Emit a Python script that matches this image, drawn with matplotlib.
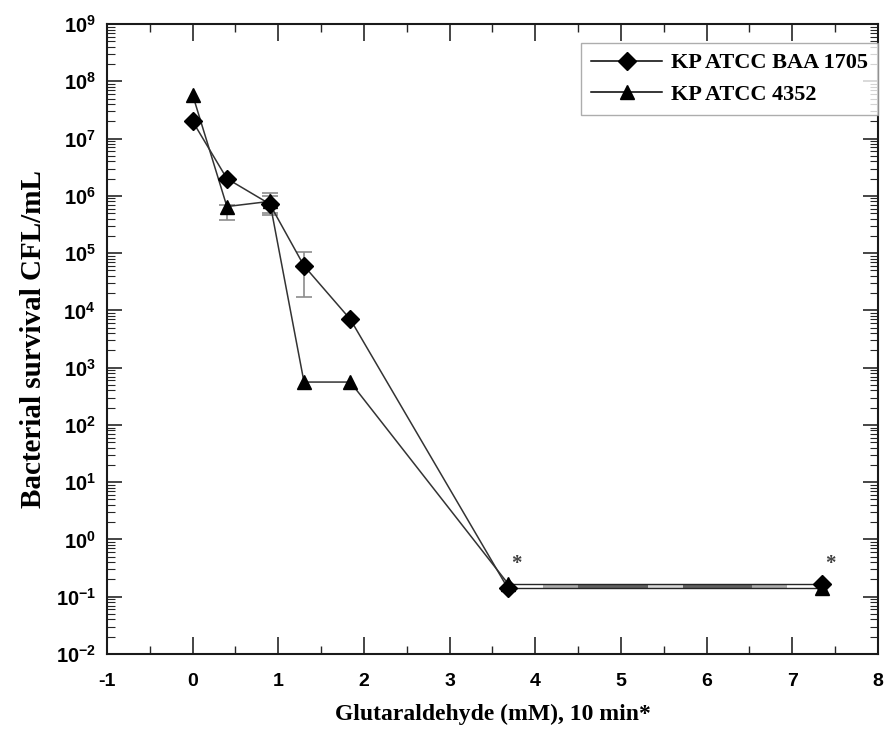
import numpy as np
import matplotlib.pyplot as plt
from matplotlib.ticker import LogLocator, FixedLocator, NullFormatter

plt.rcParams['mathtext.fontset'] = 'custom'
plt.rcParams['mathtext.bf'] = 'Liberation Sans:bold'
plt.rcParams['mathtext.rm'] = 'Liberation Sans'
plt.rcParams['axes.unicode_minus'] = False

# ── Data ──────────────────────────────────────────────────────────────────────
conc_mM   = [0.0, 0.4, 0.9, 1.3, 1.84, 3.68, 7.35]
baa1705   = [2.0e7, 2.0e6, 7.2e5, 6.0e4, 7.0e3, 0.14, 0.17]
atcc4352  = [5.8e7, 6.5e5, 8.0e5, 560, 560, 0.17, 0.14]

# error bars: (index, lower, upper)
baa_err   = [(2, 5.0e5, 1.0e6), (3, 1.7e4, 1.05e5)]
atcc_err  = [(1, 3.8e5, 7.0e5), (2, 4.6e5, 1.1e6)]

star_x    = [3.78, 7.45]
star_y    = [0.38, 0.38]

# grey band between the two curves at the detection limit
band_grey = ['white', '0.68', '0.38', '0.38', '0.85', '0.38', '0.38', '0.68', 'white']

xticks    = list(range(-1, 9))
yexp      = list(range(-2, 10))

# ── Figure ────────────────────────────────────────────────────────────────────
fig = plt.figure(figsize=(8.87, 7.51), dpi=100)
ax = fig.add_axes([0.1206, 0.1292, 0.8692, 0.8388])

ax.set_yscale('log')
ax.set_xlim(-1, 8)
ax.set_ylim(1e-2, 1e9)

# band segments
x0, x1 = conc_mM[-2], conc_mM[-1]
edges = np.linspace(x0, x1, len(band_grey) + 1)
lo = min(baa1705[-2], atcc4352[-2])
hi = max(baa1705[-2], atcc4352[-2])
for c, a, b in zip(band_grey, edges[:-1], edges[1:]):
    ax.fill_between([a, b], [lo, lo], [hi, hi], color=c, lw=0, zorder=1)
ax.plot([x0, x1], [hi, hi], color='0.15', lw=1.0, zorder=2)
ax.plot([x0, x1], [lo, lo], color='0.15', lw=1.0, zorder=2)

# error bars
for idx, lo_e, hi_e in baa_err + atcc_err:
    mid = np.sqrt(lo_e * hi_e)
    ax.errorbar([conc_mM[idx]], [mid], yerr=[[mid - lo_e], [hi_e - mid]],
                fmt='none', ecolor='0.55', elinewidth=1.2, capsize=6, capthick=1.2, zorder=2)

ax.plot(conc_mM[:-1], baa1705[:-1], color='0.2', lw=1.1, zorder=3)
ax.plot(conc_mM[:-1], atcc4352[:-1], color='0.2', lw=1.1, zorder=3)
ax.plot(conc_mM, baa1705, ls='none', marker='D', ms=9, color='black', zorder=4)
ax.plot(conc_mM, atcc4352, ls='none', marker='^', ms=10, color='black', zorder=4)

for sx, sy in zip(star_x, star_y):
    ax.text(sx, sy, '*', ha='center', va='center', fontsize=15, fontweight='bold',
            family='Liberation Serif', color='0.25')

# legend drawn with proxy handles
h1, = ax.plot([], [], color='black', lw=1.1, marker='D', ms=9)
h2, = ax.plot([], [], color='black', lw=1.1, marker='^', ms=10)
leg = ax.legend([h1, h2], ['KP ATCC BAA 1705', 'KP ATCC 4352'],
                loc='upper right', bbox_to_anchor=(1.0, 0.97),
                prop={'family': 'Liberation Serif', 'weight': 'bold', 'size': 16},
                frameon=True, fancybox=False, edgecolor='0.6', handlelength=3.2,
                handletextpad=0.4, borderpad=0.45, labelspacing=0.5, borderaxespad=0)
leg.get_frame().set_linewidth(1.0)

# ── Axes styling ──────────────────────────────────────────────────────────────
ax.xaxis.set_major_locator(FixedLocator(xticks))
ax.xaxis.set_minor_locator(FixedLocator([x + 0.5 for x in xticks[:-1]]))
ax.set_xticklabels([str(x) for x in xticks], family='Liberation Sans',
                   fontweight='bold', fontsize=14)

ax.yaxis.set_major_locator(FixedLocator([10.0 ** e for e in yexp]))
ax.yaxis.set_minor_locator(LogLocator(base=10, subs=np.arange(2, 10), numticks=50))
ax.yaxis.set_minor_formatter(NullFormatter())
ax.set_yticklabels([r'$\mathbf{10^{%d}}$' % e for e in yexp], fontsize=14.5)

ax.tick_params(axis='both', which='both', direction='in', top=True, right=True,
               color='0.15')
ax.tick_params(axis='x', which='major', length=12, width=1.2, pad=14)
ax.tick_params(axis='x', which='minor', length=6, width=1.0)
ax.tick_params(axis='y', which='major', length=11, width=1.2, pad=8)
ax.tick_params(axis='y', which='minor', length=6, width=0.8)
for s in ax.spines.values():
    s.set_linewidth(1.5)
    s.set_color('0.1')

ax.set_xlabel('Glutaraldehyde (mM), 10 min*', family='Liberation Serif',
              fontweight='bold', fontsize=17, labelpad=10)
ax.set_ylabel('Bacterial survival CFL/mL', family='Liberation Serif',
              fontweight='bold', fontsize=21, labelpad=6)

fig.savefig('out.png', dpi=100)
